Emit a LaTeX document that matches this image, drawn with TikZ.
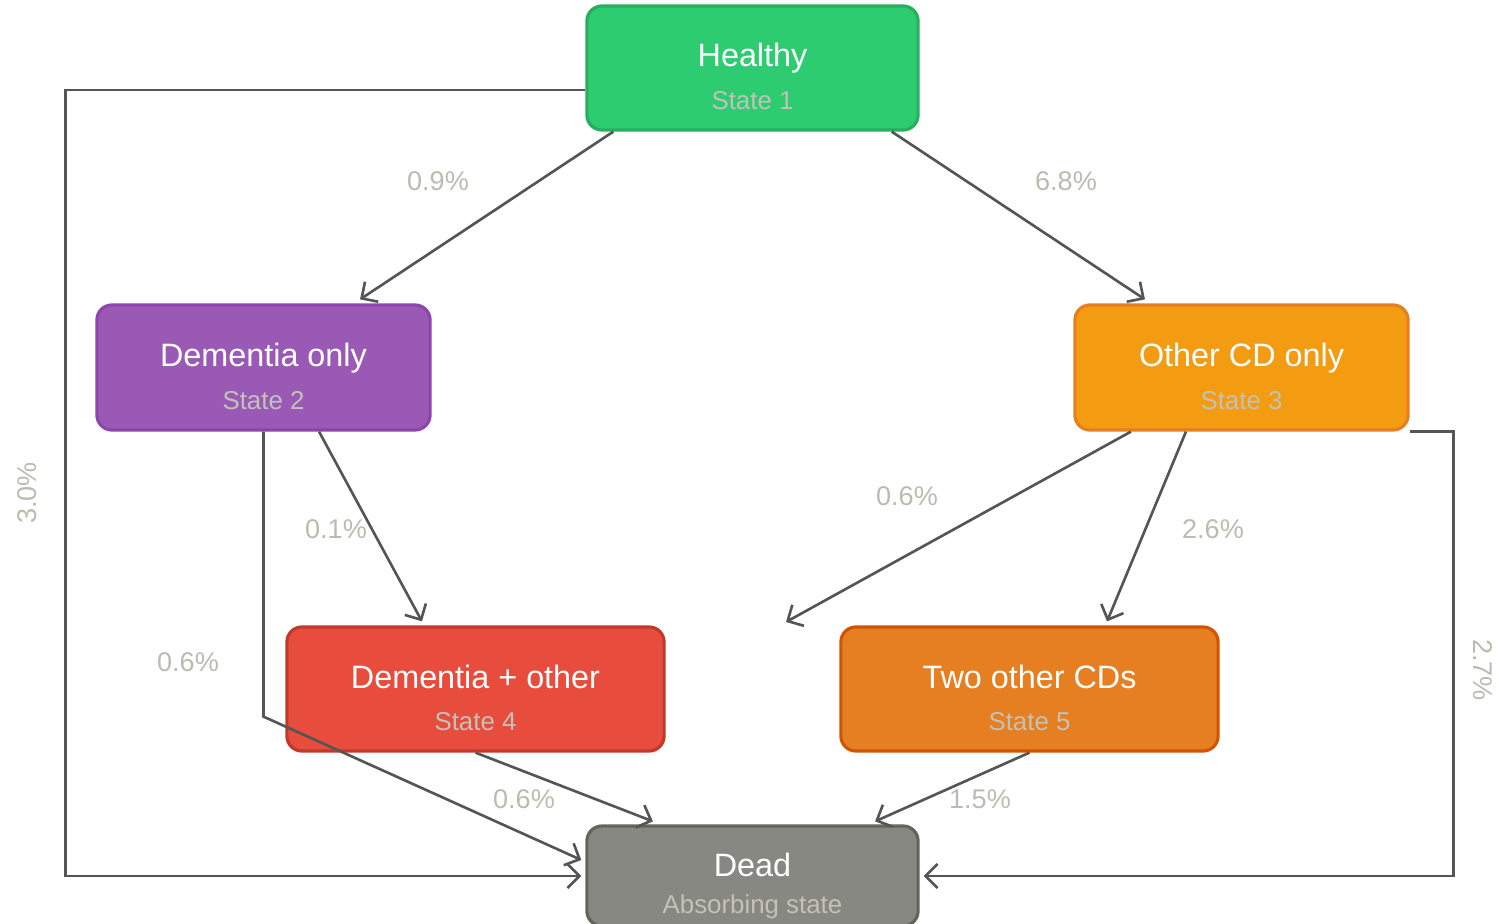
\documentclass[tikz,border=0pt]{standalone}
\usepackage{fontspec}
\setmainfont{Liberation Sans}
\usepackage{tikz}
\usetikzlibrary{arrows.meta, positioning}
\definecolor{healthyfill}{HTML}{2ECC71}
\definecolor{healthydraw}{HTML}{27AE60}
\definecolor{demfill}{HTML}{9B59B6}
\definecolor{demdraw}{HTML}{8E44AD}
\definecolor{otherfill}{HTML}{F39C12}
\definecolor{otherdraw}{HTML}{E67E22}
\definecolor{demothfill}{HTML}{E74C3C}
\definecolor{demothdraw}{HTML}{C0392B}
\definecolor{twofill}{HTML}{E67E22}
\definecolor{twodraw}{HTML}{D35400}
\definecolor{deadfill}{HTML}{888882}
\definecolor{deaddraw}{HTML}{64645F}
\definecolor{subgray}{HTML}{C2C2B8}
\definecolor{pctgray}{HTML}{BBBBAF}
\definecolor{edgegray}{HTML}{555555}
\tikzstyle{statebox} = [draw, rectangle, rounded corners=0.15cm, line width=0.9pt, inner sep=0pt]
\tikzstyle{ttl} = [anchor=base, inner sep=0pt, text=white, font=\fontsize{9.2}{11}\selectfont]
\tikzstyle{sub} = [anchor=base, inner sep=0pt, text=subgray, font=\fontsize{7.35}{9}\selectfont]
\tikzstyle{pct} = [inner sep=0pt, text=pctgray, font=\fontsize{7.7}{9}\selectfont]
\tikzstyle{edge} = [draw=edgegray, line width=0.75pt, -{Straight Barb[length=0.12cm, width=0.24cm]}]

\begin{document}
\begin{tikzpicture}[x=0.01cm, y=-0.01cm]
    \useasboundingbox (0,0) rectangle (1499,924);

    \node[statebox, fill=healthyfill, draw=healthydraw, minimum width=3.31cm, minimum height=1.24cm] (healthy) at (752.5,68) {};
    \node[statebox, fill=demfill, draw=demdraw, minimum width=3.33cm, minimum height=1.25cm] (dem) at (263.5,367.5) {};
    \node[statebox, fill=otherfill, draw=otherdraw, minimum width=3.33cm, minimum height=1.25cm] (other) at (1241.5,367.5) {};
    \node[statebox, fill=demothfill, draw=demothdraw, minimum width=3.77cm, minimum height=1.24cm] (demoth) at (475.5,689) {};
    \node[statebox, fill=twofill, draw=twodraw, minimum width=3.77cm, minimum height=1.24cm] (two) at (1029.5,689) {};
    \node[statebox, fill=deadfill, draw=deaddraw, minimum width=3.31cm, minimum height=1.00cm] (dead) at (752.5,876) {};

    \node[ttl] (healthy-t) at (752.5,67) {Healthy};
    \node[sub] (healthy-s) at (752.5,110) {State 1};
    \node[ttl] (dem-t) at (263.5,366.5) {Dementia only};
    \node[sub] (dem-s) at (263.5,409.5) {State 2};
    \node[ttl] (other-t) at (1241.5,366.5) {Other CD only};
    \node[sub] (other-s) at (1241.5,409.5) {State 3};
    \node[ttl] (demoth-t) at (475.5,688) {Dementia + other};
    \node[sub] (demoth-s) at (475.5,730) {State 4};
    \node[ttl] (two-t) at (1029.5,688) {Two other CDs};
    \node[sub] (two-s) at (1029.5,730) {State 5};
    \node[ttl] (dead-t) at (752.5,876) {Dead};
    \node[sub] (dead-s) at (752.5,913) {Absorbing state};

    \coordinate (loose) at (786,622);

    \draw[edge] ([xshift=0.28cm]healthy.south west) -- ([xshift=0.965cm, yshift=0.04cm]dem.north);
    \draw[edge] ([xshift=-0.28cm]healthy.south east) -- ([xshift=-0.965cm, yshift=0.04cm]other.north);
    \draw[edge] ([yshift=-0.22cm]healthy.west) -- ++(-520,0) |- ([xshift=-0.04cm]dead.west);
    \draw[edge] ([xshift=0.555cm]dem.south) -- ([xshift=-0.535cm, yshift=0.04cm]demoth.north);
    \draw[edge] (dem.south) -- ++(0,285) -- ([xshift=-0.04cm, yshift=0.16cm]dead.west);
    \draw[edge] ([xshift=-1.105cm]other.south) -- (loose);
    \draw[edge] ([xshift=-0.555cm]other.south) -- ([xshift=0.775cm, yshift=0.04cm]two.north);
    \draw[edge] (other.south east) -- ++(44,0) |- ([xshift=0.04cm]dead.east);
    \draw[edge] (demoth.south) -- ([xshift=-0.995cm, yshift=0.03cm]dead.north);
    \draw[edge] (two.south) -- ([xshift=1.225cm, yshift=0.03cm]dead.north);

    \node[pct] (p09) at (438,181) {0.9\%};
    \node[pct] (p68) at (1066,181) {6.8\%};
    \node[pct, rotate=90] (p30) at (27,493) {3.0\%};
    \node[pct] (p01) at (336,529) {0.1\%};
    \node[pct] (p06a) at (188,662) {0.6\%};
    \node[pct] (p06b) at (907,496) {0.6\%};
    \node[pct] (p26) at (1213,529) {2.6\%};
    \node[pct, rotate=-90] (p27) at (1483,670) {2.7\%};
    \node[pct] (p06c) at (524,799) {0.6\%};
    \node[pct] (p15) at (980,799) {1.5\%};
\end{tikzpicture}
\end{document}
